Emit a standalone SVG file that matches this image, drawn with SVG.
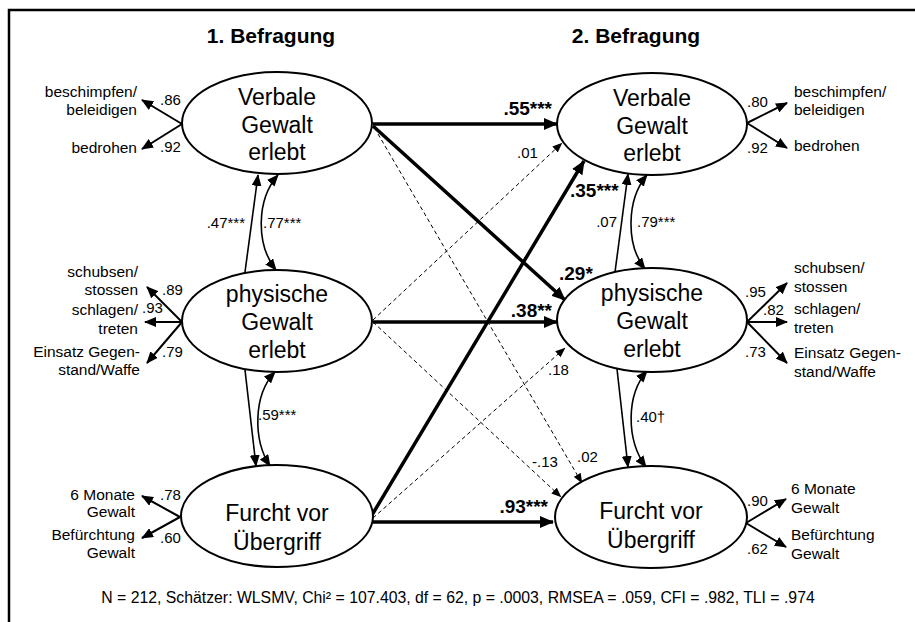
<svg xmlns="http://www.w3.org/2000/svg" width="915" height="622" viewBox="0 0 915 622">
<defs>
<style>
text{font-family:"Liberation Sans",Arial,sans-serif;fill:#000}
.node{font-size:23px;text-anchor:middle}
.lab{font-size:15.5px}
.num{font-size:15px}
.b{font-size:19px;font-weight:bold}
.title{font-size:21px;font-weight:bold;text-anchor:middle}
.foot{font-size:15.8px;text-anchor:middle}
.e{text-anchor:end}
ellipse{fill:#fff;stroke:#000;stroke-width:2}
.frame{fill:none;stroke:#000;stroke-width:2.5}
.thick{stroke:#000;stroke-width:3.5;fill:none;marker-end:url(#big)}
.ind{stroke:#000;stroke-width:2;fill:none;marker-end:url(#mid)}
.dash{stroke:#000;stroke-width:1;stroke-dasharray:4 3;fill:none;marker-end:url(#sm)}
.cor{stroke:#000;stroke-width:1.6;fill:none;marker-end:url(#mid)}
.cor2{stroke:#000;stroke-width:1.6;fill:none;marker-end:url(#mid);marker-start:url(#mids)}
</style>
<marker id="big" viewBox="0 0 14 12" refX="13" refY="6" markerWidth="14" markerHeight="12" orient="auto" markerUnits="userSpaceOnUse"><path d="M0,0 L14,6 L0,12 z" fill="#000"/></marker>
<marker id="mid" viewBox="0 0 12 10" refX="11" refY="5" markerWidth="12" markerHeight="10" orient="auto" markerUnits="userSpaceOnUse"><path d="M0,0 L12,5 L0,10 z" fill="#000"/></marker>
<marker id="mids" viewBox="0 0 12 10" refX="11" refY="5" markerWidth="12" markerHeight="10" orient="auto-start-reverse" markerUnits="userSpaceOnUse"><path d="M0,0 L12,5 L0,10 z" fill="#000"/></marker>
<marker id="sm" viewBox="0 0 10 8" refX="9.5" refY="4" markerWidth="10" markerHeight="8" orient="auto" markerUnits="userSpaceOnUse"><path d="M0,0 L10,4 L0,8 z" fill="#000"/></marker>
</defs>
<rect width="915" height="622" fill="#fff"/>
<path class="frame" d="M9,622 V10 H915"/>
<text class="title" x="271" y="43">1. Befragung</text>
<text class="title" x="636" y="43">2. Befragung</text>

<g id="connectors">
<!-- indicators left -->
<path class="ind" d="M182,124 L142,100"/>
<path class="ind" d="M182,124 L142,149"/>
<path class="ind" d="M182,322 L147,287"/>
<path class="ind" d="M182,322 L145,322"/>
<path class="ind" d="M182,322 L147,363"/>
<path class="ind" d="M180,517 L142,496"/>
<path class="ind" d="M180,517 L142,538"/>
<!-- indicators right -->
<path class="ind" d="M747,123 L787,103"/>
<path class="ind" d="M747,123 L787,148"/>
<path class="ind" d="M747,322 L787,283"/>
<path class="ind" d="M747,322 L787,322"/>
<path class="ind" d="M747,322 L787,363"/>
<path class="ind" d="M746,523 L786,499"/>
<path class="ind" d="M746,523 L786,547"/>
<!-- correlations left -->
<path class="cor" d="M245,272 L258,175"/>
<path class="cor2" d="M278,175 C256,200 256,245 276,270"/>
<path class="cor" d="M245,370 L256,466"/>
<path class="cor2" d="M275,372 C253,395 253,440 270,466"/>
<!-- correlations right -->
<path class="cor" d="M615,272 L628,174"/>
<path class="cor2" d="M647,175 C626,200 626,245 645,269"/>
<path class="cor" d="M617,369 L628,467"/>
<path class="cor2" d="M647,371 C626,395 626,440 646,467"/>
<!-- cross paths -->
<path class="thick" d="M373,124 L557,124"/>
<path class="thick" d="M373,126 L565,300"/>
<path class="dash" d="M378,134 L582,483"/>
<path class="dash" d="M373,320 L562,143"/>
<path class="thick" d="M373,322 L557,322"/>
<path class="dash" d="M373,322 L561,497"/>
<path class="thick" d="M372,515 L584,161"/>
<path class="dash" d="M373,518 L565,348"/>
<path class="thick" d="M373,522 L553,522"/>
</g>

<g id="labels">
<text class="num" x="160" y="105">.86</text>
<text class="num" x="160" y="152">.92</text>
<text class="num" x="162" y="295">.89</text>
<text class="num" x="142" y="313">.93</text>
<text class="num" x="162" y="357">.79</text>
<text class="num" x="160" y="500">.78</text>
<text class="num" x="160" y="543">.60</text>
<text class="num" x="747" y="107">.80</text>
<text class="num" x="747" y="153">.92</text>
<text class="num" x="745" y="297">.95</text>
<text class="num" x="763" y="315">.82</text>
<text class="num" x="745" y="357">.73</text>
<text class="num" x="747" y="506">.90</text>
<text class="num" x="747" y="554">.62</text>
<text class="num e" x="245" y="228">.47***</text>
<text class="num" x="263" y="228">.77***</text>
<text class="num" x="258" y="420">.59***</text>
<text class="num e" x="617" y="227">.07</text>
<text class="num" x="637" y="227">.79***</text>
<text class="num" x="636" y="422">.40†</text>
<text class="b e" x="552" y="115">.55***</text>
<text class="num" x="517" y="158">.01</text>
<text class="b" x="570" y="197">.35***</text>
<text class="b" x="559" y="280">.29*</text>
<text class="b e" x="552" y="317">.38**</text>
<text class="num" x="548" y="375">.18</text>
<text class="num" x="532" y="467">-.13</text>
<text class="num" x="577" y="462">.02</text>
<text class="b e" x="548" y="513">.93***</text>
</g>

<g id="ind-left">
<text class="lab e" x="137" y="97">beschimpfen/</text>
<text class="lab e" x="137" y="115">beleidigen</text>
<text class="lab e" x="137" y="153">bedrohen</text>
<text class="lab e" x="138" y="277">schubsen/</text>
<text class="lab e" x="138" y="295">stossen</text>
<text class="lab e" x="138" y="315">schlagen/</text>
<text class="lab e" x="138" y="334">treten</text>
<text class="lab e" x="140" y="357">Einsatz Gegen-</text>
<text class="lab e" x="140" y="375">stand/Waffe</text>
<text class="lab e" x="135" y="500">6 Monate</text>
<text class="lab e" x="135" y="517">Gewalt</text>
<text class="lab e" x="135" y="540">Befürchtung</text>
<text class="lab e" x="135" y="558">Gewalt</text>
</g>
<g id="ind-right">
<text class="lab" x="794" y="97">beschimpfen/</text>
<text class="lab" x="794" y="115">beleidigen</text>
<text class="lab" x="794" y="151">bedrohen</text>
<text class="lab" x="794" y="273">schubsen/</text>
<text class="lab" x="794" y="292">stossen</text>
<text class="lab" x="794" y="314">schlagen/</text>
<text class="lab" x="794" y="333">treten</text>
<text class="lab" x="794" y="358">Einsatz Gegen-</text>
<text class="lab" x="794" y="377">stand/Waffe</text>
<text class="lab" x="791" y="494">6 Monate</text>
<text class="lab" x="791" y="513">Gewalt</text>
<text class="lab" x="791" y="540">Befürchtung</text>
<text class="lab" x="791" y="559">Gewalt</text>
</g>

<g id="verbal1">
<ellipse cx="277" cy="123" rx="95" ry="51"/>
<text class="node" x="277" y="105">Verbale</text>
<text class="node" x="277" y="133">Gewalt</text>
<text class="node" x="277" y="160">erlebt</text>
</g>
<g id="physisch1">
<ellipse cx="277" cy="321" rx="95" ry="51"/>
<text class="node" x="277" y="302">physische</text>
<text class="node" x="277" y="330">Gewalt</text>
<text class="node" x="277" y="358">erlebt</text>
</g>
<g id="furcht1">
<ellipse cx="277" cy="516" rx="96" ry="51"/>
<text class="node" x="277" y="521">Furcht vor</text>
<text class="node" x="277" y="550">Übergriff</text>
</g>
<g id="verbal2">
<ellipse cx="652" cy="124" rx="95" ry="51"/>
<text class="node" x="652" y="106">Verbale</text>
<text class="node" x="652" y="134">Gewalt</text>
<text class="node" x="652" y="161">erlebt</text>
</g>
<g id="physisch2">
<ellipse cx="652" cy="320" rx="95" ry="52"/>
<text class="node" x="652" y="301">physische</text>
<text class="node" x="652" y="329">Gewalt</text>
<text class="node" x="652" y="357">erlebt</text>
</g>
<g id="furcht2">
<ellipse cx="651" cy="517" rx="96" ry="51"/>
<text class="node" x="651" y="519">Furcht vor</text>
<text class="node" x="651" y="548">Übergriff</text>
</g>

<text class="foot" x="458" y="603">N = 212, Schätzer: WLSMV, Chi² = 107.403, df = 62, p = .0003, RMSEA = .059, CFI = .982, TLI = .974</text>
</svg>
